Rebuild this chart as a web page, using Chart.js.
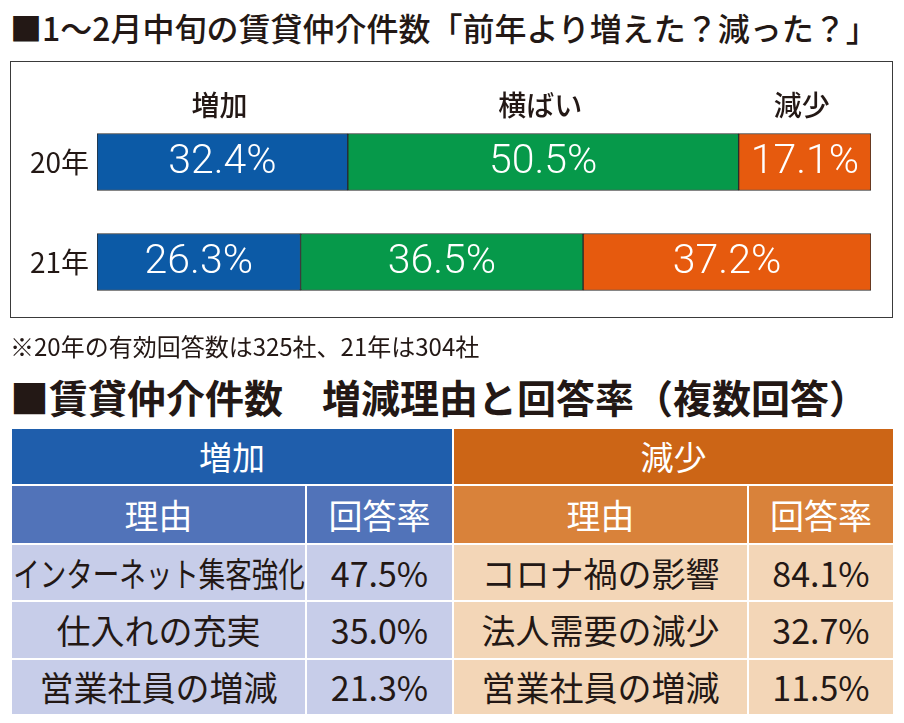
<!DOCTYPE html>
<html lang="ja">
<head>
<meta charset="UTF-8">
<title>賃貸仲介件数</title>
<script src="https://cdn.jsdelivr.net/npm/chart.js"></script>
<style>
    body { margin: 0; background: #fff; width: 904px; height: 723px; position: relative; overflow: hidden;
           font-family: "Noto Sans CJK JP", sans-serif; color: #231815; }
    .title1 { position: absolute; left: 10px; top: 4px; font-size: 32px; font-weight: 500; white-space: nowrap; }
    .box { position: absolute; left: 10px; top: 61px; width: 881px; height: 255px; border: 1.5px solid #3a3a3a; }
    #myChart { position: absolute; left: 0; top: -10px; }
    .note { position: absolute; left: 10px; top: 328px; font-size: 24px; white-space: nowrap; }
    .title2 { position: absolute; left: 10px; top: 368px; font-size: 39px; font-weight: 700; white-space: nowrap; }
    table { position: absolute; left: 10px; top: 427px; border-collapse: separate; border-spacing: 2px;
            table-layout: fixed; width: 885px; }
    td { text-align: center; padding: 0; white-space: nowrap; overflow: hidden; font-size: 34px; line-height: 1; }
    .h1b { background: #1f5eac; color: #fff; font-size: 33px; }
    .h1o { background: #cc6516; color: #fff; font-size: 33px; }
    .h2b { background: #5173b9; color: #fff; }
    .h2o { background: #d9823a; color: #fff; }
    .rb { background: #c7cde9; }
    .ro { background: #f3d6b7; }
    .sq { display: inline-block; transform: scaleX(0.78); transform-origin: center; margin: 0 -40px; }
</style>
</head>
<body>
<div class="title1">■1～2月中旬の賃貸仲介件数「前年より増えた？減った？」</div>
<div class="box"><canvas id="myChart" width="881" height="285"></canvas></div>
<div class="note">※20年の有効回答数は325社、21年は304社</div>
<div class="title2">■賃貸仲介件数　増減理由と回答率（複数回答）</div>
<table id="reasonTable">
    <colgroup><col style="width:293px"><col style="width:145px"><col style="width:293px"><col style="width:144px"></colgroup>
    <tbody id="reasonBody"></tbody>
</table>

<script>
    // 上: 前年より増えた？減った？
    var years = ['20年', '21年'];
    var seriesNames = ['増加', '横ばい', '減少'];
    var zouka = [32.4, 26.3];
    var yokobai = [50.5, 36.5];
    var genshou = [17.1, 37.2];

    // 下: 増減理由と回答率
    var upReasons = ['インターネット集客強化', '仕入れの充実', '営業社員の増減'];
    var upRates = [47.5, 35.0, 21.3];
    var downReasons = ['コロナ禍の影響', '法人需要の減少', '営業社員の増減'];
    var downRates = [84.1, 32.7, 11.5];

    var colors = ['#0c5aa6', '#06994a', '#e65a0e'];

    // 表を組み立てる
    var rowH = [55, 56, 54];
    var html = '<tr style="height:55px"><td colspan="2" class="h1b">増加</td><td colspan="2" class="h1o">減少</td></tr>'
        + '<tr style="height:57px"><td class="h2b">理由</td><td class="h2b">回答率</td><td class="h2o">理由</td><td class="h2o">回答率</td></tr>';
    for (var i = 0; i < upReasons.length; i++) {
        var up = upReasons[i].length > 8 ? '<span class="sq">' + upReasons[i] + '</span>' : upReasons[i];
        html += '<tr style="height:' + rowH[i] + 'px">'
            + '<td class="rb">' + up + '</td>'
            + '<td class="rb">' + upRates[i].toFixed(1) + '%</td>'
            + '<td class="ro">' + downReasons[i] + '</td>'
            + '<td class="ro">' + downRates[i].toFixed(1) + '%</td></tr>';
    }
    document.getElementById('reasonBody').innerHTML = html;

    // バーの中の数値と上の見出し
    var labelPlugin = {
        id: 'barLabels',
        afterDatasetsDraw: function (chart) {
            var ctx = chart.ctx;
            ctx.save();
            ctx.textAlign = 'center';
            ctx.textBaseline = 'middle';
            chart.data.datasets.forEach(function (ds, di) {
                var meta = chart.getDatasetMeta(di);
                meta.data.forEach(function (bar, idx) {
                    var cx = (bar.x + bar.base) / 2;
                    ctx.fillStyle = '#fff';
                    ctx.font = '300 41px Roboto';
                    ctx.fillText(ds.data[idx].toFixed(1) + '%', cx, bar.y + 1);
                    if (idx === 0) {
                        ctx.fillStyle = '#231815';
                        ctx.font = '500 28px "Noto Sans CJK JP"';
                        ctx.fillText(ds.label, cx - 3, bar.y - 57);
                    }
                });
            });
            ctx.restore();
        }
    };

    new Chart(document.getElementById('myChart'), {
        type: 'bar',
        data: {
            labels: years,
            datasets: [
                { label: seriesNames[0], data: zouka, backgroundColor: colors[0] },
                { label: seriesNames[1], data: yokobai, backgroundColor: colors[1] },
                { label: seriesNames[2], data: genshou, backgroundColor: colors[2] }
            ]
        },
        options: {
            indexAxis: 'y',
            responsive: false,
            animation: false,
            datasets: {
                bar: { barThickness: 57, borderWidth: 1, borderColor: '#2a2a2a', borderSkipped: false }
            },
            layout: { padding: { top: 60, bottom: 25, left: 0, right: 21 } },
            scales: {
                x: { stacked: true, min: 0, max: 100, display: false },
                y: {
                    stacked: true,
                    grid: { display: false },
                    border: { display: false },
                    ticks: { color: '#231815', font: { size: 28, family: '"Noto Sans CJK JP"' }, padding: 0 },
                    afterFit: function (scale) { scale.width = 86; }
                }
            },
            plugins: {
                legend: { display: false },
                tooltip: { enabled: false }
            }
        },
        plugins: [labelPlugin]
    });
</script>
</body>
</html>
